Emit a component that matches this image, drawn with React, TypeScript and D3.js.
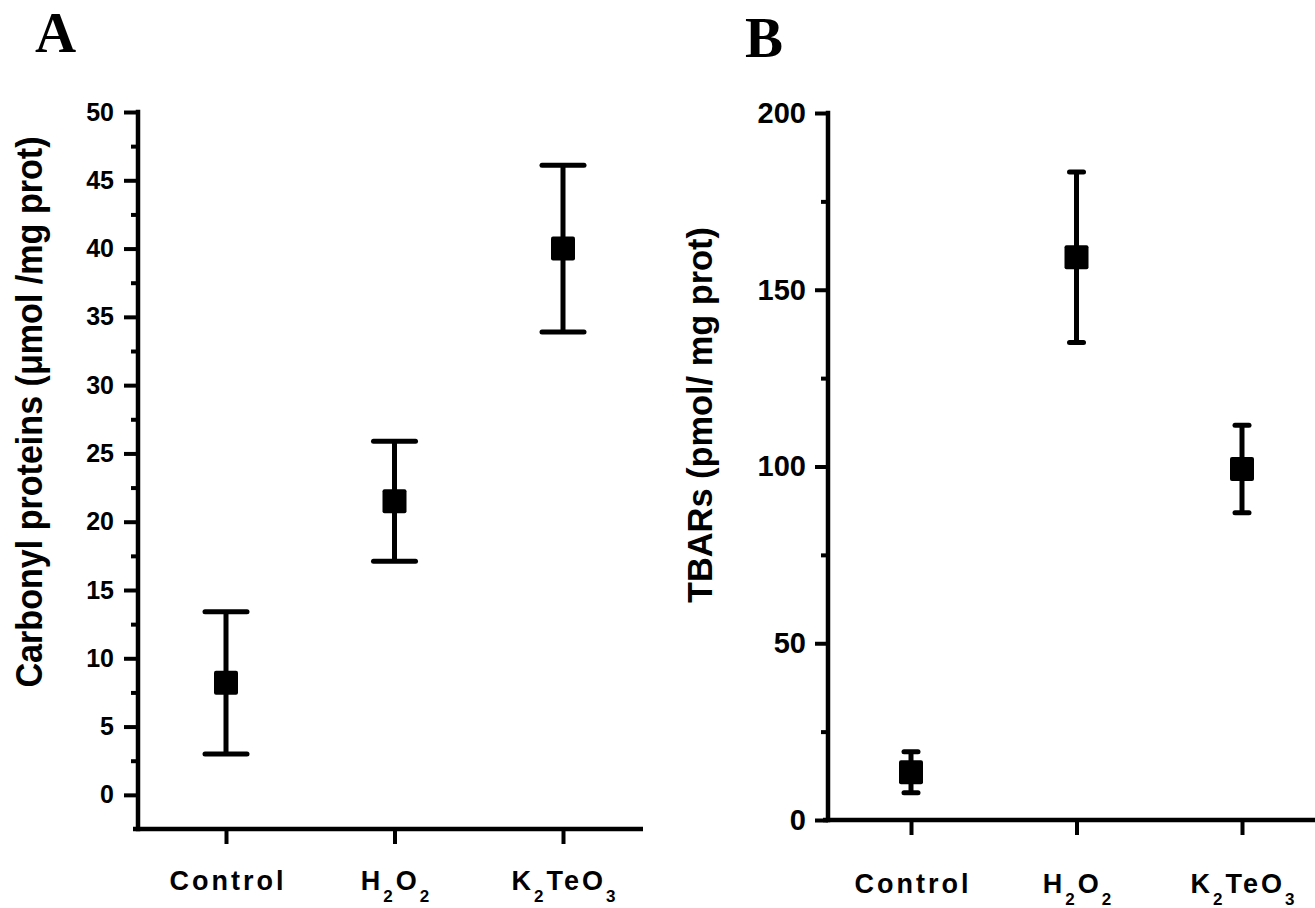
import React, { useEffect, useRef } from 'react';
import * as d3 from 'd3';

// groups on the x axis (same in both panels)
const groups = ['Control', 'H2O2', 'K2TeO3'];
// label pieces, sub = subscript
const groupLabels = [
  [{ t: 'Control', sub: false }],
  [
    { t: 'H', sub: false },
    { t: '2', sub: true },
    { t: 'O', sub: false },
    { t: '2', sub: true },
  ],
  [
    { t: 'K', sub: false },
    { t: '2', sub: true },
    { t: 'TeO', sub: false },
    { t: '3', sub: true },
  ],
];

// panel A: carbonyl proteins
const carbonylMean = [8.2, 21.5, 40.0];
const carbonylErr = [5.2, 4.4, 6.1];
const carbonylTicks = [0, 5, 10, 15, 20, 25, 30, 35, 40, 45, 50];
const carbonylMinor = [2.5, 7.5, 12.5, 17.5, 22.5, 27.5, 32.5, 37.5, 42.5, 47.5];

// panel B: TBARs
const tbarsMean = [13.5, 159.2, 99.3];
const tbarsErr = [5.8, 24.1, 12.4];
const tbarsTicks = [0, 50, 100, 150, 200];
const tbarsMinor = [25, 75, 125, 175];

const sans = '"Liberation Sans", Arial, Helvetica, sans-serif';
const serif = '"Liberation Serif", "Times New Roman", serif';

const W = 1315;
const H = 908;

function drawPanel(svg, cfg) {
  const g = svg.append('g');
  const y = d3.scaleLinear().domain(cfg.yDomain).range(cfg.yRange);
  const x = d3.scalePoint().domain(groups).range(cfg.xRange);
  const axisX = cfg.axisX;
  const baseY = cfg.yRange[0];

  // y axis, major ticks
  const yAx = g
    .append('g')
    .attr('transform', `translate(${axisX},0)`)
    .call(
      d3
        .axisLeft(y)
        .tickValues(cfg.ticks)
        .tickSize(cfg.tickLen)
        .tickSizeOuter(0)
        .tickPadding(cfg.tickPad)
    );
  yAx.select('.domain').remove();
  yAx.selectAll('line').attr('stroke', '#000').attr('stroke-width', 4);
  yAx
    .selectAll('text')
    .attr('fill', '#000')
    .style('font-family', sans)
    .style('font-weight', 'bold')
    .style('font-size', cfg.tickFont + 'px');

  // minor ticks
  const yMin = g
    .append('g')
    .attr('transform', `translate(${axisX},0)`)
    .call(d3.axisLeft(y).tickValues(cfg.minor).tickSize(7).tickFormat(() => ''));
  yMin.select('.domain').remove();
  yMin.selectAll('line').attr('stroke', '#000').attr('stroke-width', 4);

  // axis lines
  g.append('line')
    .attr('x1', axisX)
    .attr('x2', axisX)
    .attr('y1', cfg.yRange[1])
    .attr('y2', baseY)
    .attr('stroke', '#000')
    .attr('stroke-width', 4.5)
    .attr('stroke-linecap', 'square');
  g.append('line')
    .attr('x1', axisX - 5)
    .attr('x2', cfg.xEnd)
    .attr('y1', baseY)
    .attr('y2', baseY)
    .attr('stroke', '#000')
    .attr('stroke-width', 4.5);

  // x ticks
  const xAx = g
    .append('g')
    .attr('transform', `translate(0,${baseY})`)
    .call(d3.axisBottom(x).tickSize(15).tickSizeOuter(0).tickFormat(() => ''));
  xAx.select('.domain').remove();
  xAx.selectAll('line').attr('stroke', '#000').attr('stroke-width', 4);

  // x labels
  groups.forEach((grp, i) => {
    const t = g
      .append('text')
      .attr('x', x(grp) + 2)
      .attr('y', cfg.labelY)
      .attr('text-anchor', 'middle')
      .style('font-family', sans)
      .style('font-weight', 'bold')
      .style('font-size', '27px')
      .style('letter-spacing', '3px');
    let shift = 0;
    groupLabels[i].forEach((p) => {
      const dy = p.sub ? 12 - shift : -shift;
      shift = p.sub ? 12 : 0;
      t.append('tspan')
        .attr('dy', dy)
        .style('font-size', p.sub ? '17px' : '27px')
        .text(p.t);
    });
  });

  // error bars
  const marks = g
    .selectAll('.pt')
    .data(groups.map((grp, i) => ({ grp, m: cfg.mean[i], e: cfg.err[i] })))
    .join('g')
    .attr('class', 'pt');
  marks
    .append('line')
    .attr('x1', (d) => x(d.grp))
    .attr('x2', (d) => x(d.grp))
    .attr('y1', (d) => y(d.m - d.e))
    .attr('y2', (d) => y(d.m + d.e))
    .attr('stroke', '#000')
    .attr('stroke-width', 5);
  [1, -1].forEach((s) => {
    marks
      .append('line')
      .attr('x1', (d) => x(d.grp) - cfg.capHalf)
      .attr('x2', (d) => x(d.grp) + cfg.capHalf)
      .attr('y1', (d) => y(d.m + s * d.e))
      .attr('y2', (d) => y(d.m + s * d.e))
      .attr('stroke', '#000')
      .attr('stroke-width', 5)
      .attr('stroke-linecap', 'round');
  });
  marks
    .append('rect')
    .attr('x', (d) => x(d.grp) - 12)
    .attr('y', (d) => y(d.m) - 12)
    .attr('width', 24)
    .attr('height', 24)
    .attr('rx', 2)
    .attr('fill', '#000');

  // y title
  g.append('text')
    .attr('transform', `translate(${cfg.titleX},${cfg.titleY}) rotate(-90)`)
    .attr('text-anchor', 'middle')
    .attr('textLength', cfg.titleLen)
    .attr('lengthAdjust', 'spacingAndGlyphs')
    .style('font-family', sans)
    .style('font-weight', 'bold')
    .style('font-size', cfg.titleFont + 'px')
    .text(cfg.title);

  // panel letter
  g.append('text')
    .attr('x', cfg.letterX)
    .attr('y', cfg.letterY)
    .style('font-family', serif)
    .style('font-weight', 'bold')
    .style('font-size', '57px')
    .text(cfg.letter);
}

const App = () => {
  const svgRef = useRef(null);

  useEffect(() => {
    const svg = d3.select(svgRef.current);
    svg.selectAll('*').remove();

    drawPanel(svg, {
      letter: 'A',
      letterX: 35,
      letterY: 52,
      yDomain: [-2.5, 50],
      yRange: [829, 112],
      xRange: [226, 563],
      axisX: 138,
      xEnd: 643,
      ticks: carbonylTicks,
      minor: carbonylMinor,
      tickLen: 14,
      tickPad: 10,
      tickFont: 25,
      labelY: 890,
      mean: carbonylMean,
      err: carbonylErr,
      capHalf: 21,
      title: 'Carbonyl proteins (\u03bcmol /mg prot)',
      titleX: 42,
      titleY: 412,
      titleLen: 551,
      titleFont: 37,
    });

    drawPanel(svg, {
      letter: 'B',
      letterX: 745,
      letterY: 57,
      yDomain: [0, 200],
      yRange: [820, 113],
      xRange: [911, 1242],
      axisX: 828,
      xEnd: 1320,
      ticks: tbarsTicks,
      minor: tbarsMinor,
      tickLen: 13,
      tickPad: 9,
      tickFont: 29,
      labelY: 893,
      mean: tbarsMean,
      err: tbarsErr,
      capHalf: 7,
      title: 'TBARs (pmol/ mg prot)',
      titleX: 712,
      titleY: 415,
      titleLen: 376,
      titleFont: 35,
    });
  }, []);

  return (
    <svg
      ref={svgRef}
      width={W}
      height={H}
      style={{ position: 'absolute', left: 0, top: 0, background: '#fff' }}
    />
  );
};

export default App;
